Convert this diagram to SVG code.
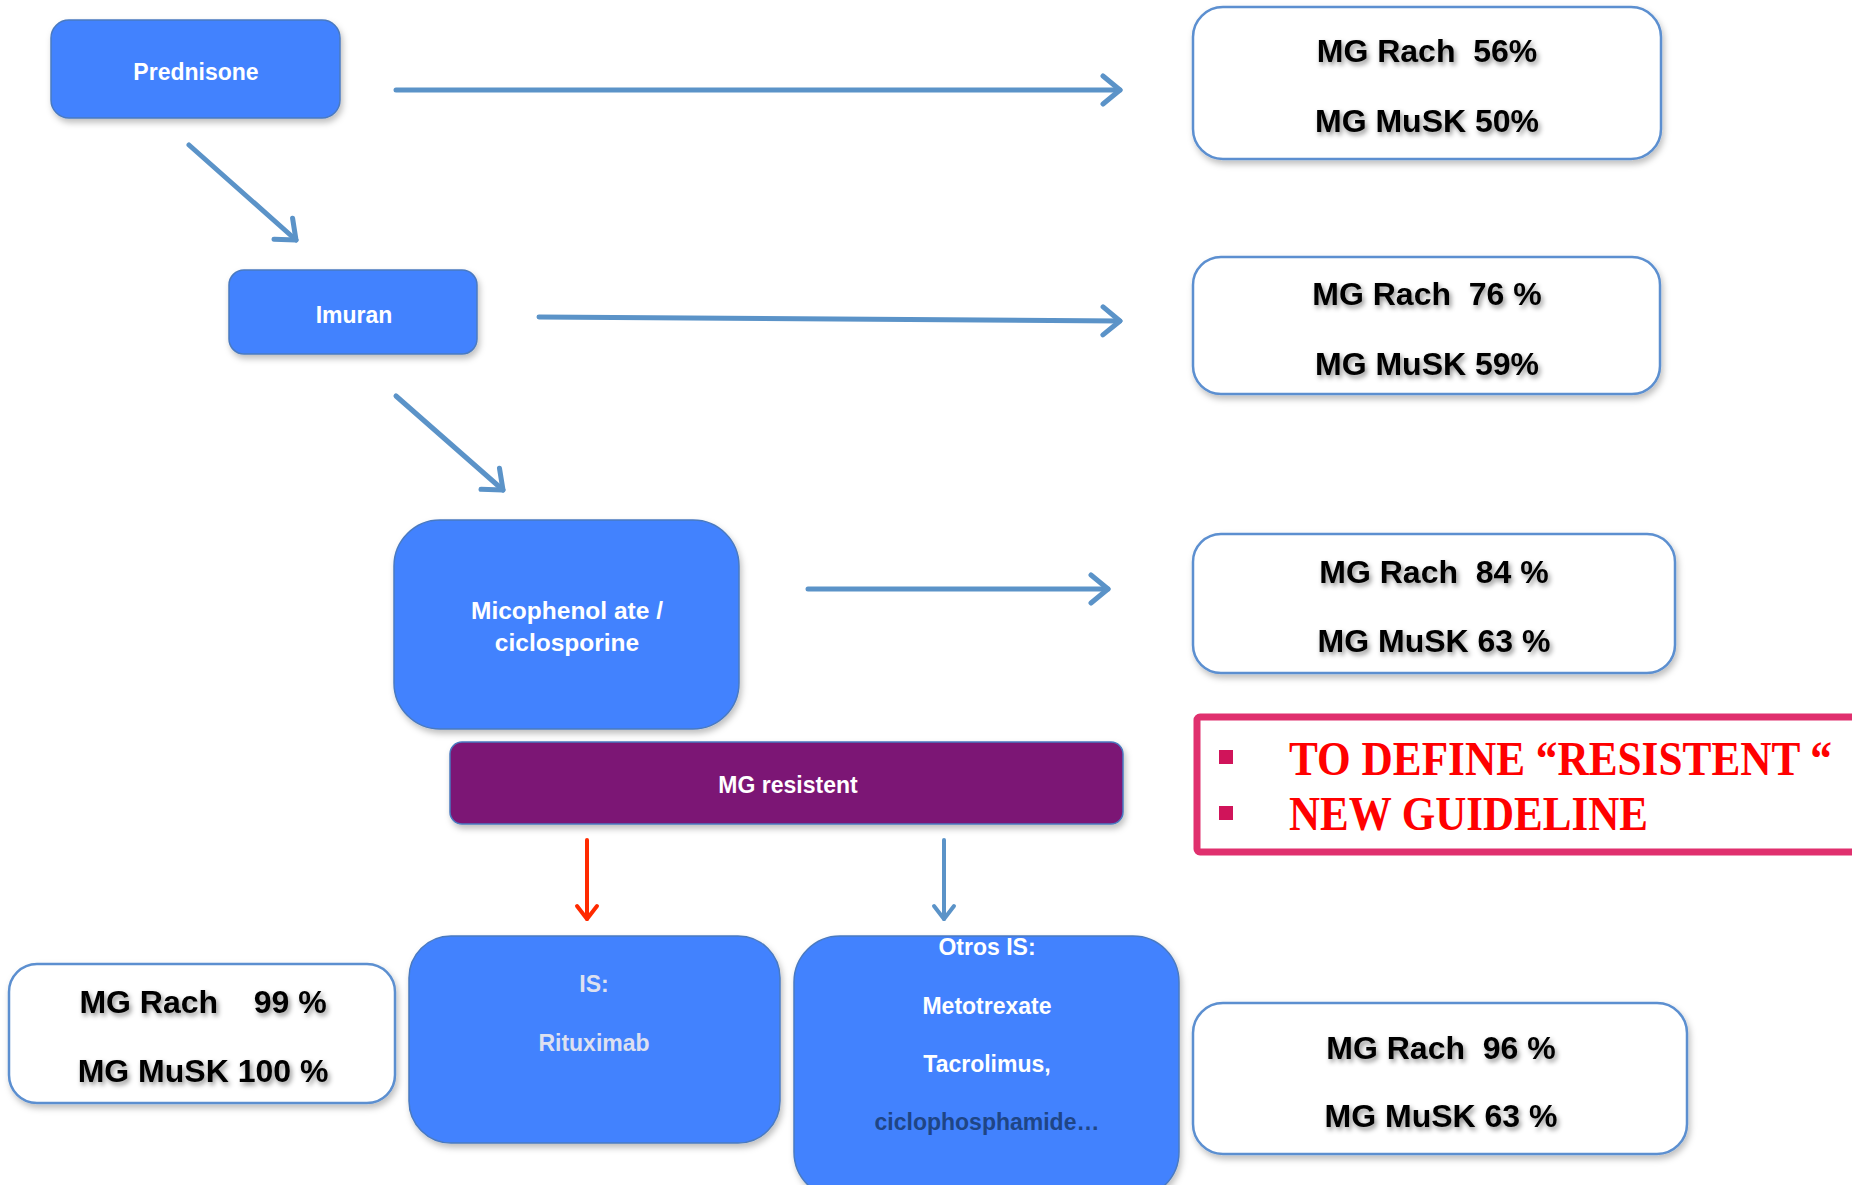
<svg xmlns="http://www.w3.org/2000/svg" width="1852" height="1185" viewBox="0 0 1852 1185">
<defs>
<style>
.node{fill:#4282FE;stroke:#4A7AC0;stroke-width:1.5;filter:url(#boxShadow)}
.res{fill:#FFFFFF;stroke:#5B8FD0;stroke-width:2.5;filter:url(#boxShadow)}
.wt{font-family:"Liberation Sans",Arial,sans-serif;font-weight:bold;font-size:23px;fill:#FFFFFF;text-anchor:middle}
.rt{font-family:"Liberation Sans",Arial,sans-serif;font-weight:bold;font-size:32px;fill:#000000;text-anchor:middle;filter:url(#textShadow)}
.conn{stroke:#5B93C8;stroke-width:5;fill:none;stroke-linecap:round}
.red{font-family:"Liberation Serif","Times New Roman",serif;font-weight:bold;font-size:48px;fill:#FF0000}
</style>
<filter id="boxShadow" x="-10%" y="-10%" width="125%" height="130%">
<feDropShadow dx="2" dy="4" stdDeviation="3" flood-color="#000000" flood-opacity="0.25"/>
</filter>
<filter id="textShadow" x="-20%" y="-50%" width="140%" height="200%">
<feDropShadow dx="2" dy="3" stdDeviation="2.5" flood-color="#000000" flood-opacity="0.45"/>
</filter>
<marker id="chev" viewBox="0 0 26 34" refX="22" refY="17" markerWidth="26" markerHeight="34" markerUnits="userSpaceOnUse" orient="auto">
<path d="M5,3 L22,17 L5,31" fill="none" stroke="#5B93C8" stroke-width="5" stroke-linecap="round" stroke-linejoin="round"/>
</marker>
<marker id="chevRed" viewBox="0 0 20 26" refX="17" refY="13" markerWidth="20" markerHeight="26" markerUnits="userSpaceOnUse" orient="auto">
<path d="M4,3 L17,13 L4,23" fill="none" stroke="#FF2A00" stroke-width="4" stroke-linecap="round" stroke-linejoin="round"/>
</marker>
<marker id="chevSmall" viewBox="0 0 20 26" refX="17" refY="13" markerWidth="20" markerHeight="26" markerUnits="userSpaceOnUse" orient="auto">
<path d="M4,3 L17,13 L4,23" fill="none" stroke="#5B93C8" stroke-width="4" stroke-linecap="round" stroke-linejoin="round"/>
</marker>
</defs>
<rect x="0" y="0" width="1852" height="1185" fill="#FFFFFF"/>

<g id="connectors">
<line class="conn" x1="396" y1="90" x2="1120" y2="90" marker-end="url(#chev)"/>
<line class="conn" x1="189" y1="145" x2="296" y2="240" marker-end="url(#chev)"/>
<line class="conn" x1="539" y1="317" x2="1120" y2="321" marker-end="url(#chev)"/>
<line class="conn" x1="396" y1="396" x2="503" y2="490" marker-end="url(#chev)"/>
<line class="conn" x1="808" y1="589" x2="1108" y2="589" marker-end="url(#chev)"/>
<line x1="587" y1="840" x2="587" y2="919" stroke="#FF2A00" stroke-width="4" stroke-linecap="round" marker-end="url(#chevRed)"/>
<line x1="944" y1="840" x2="944" y2="919" stroke="#5B93C8" stroke-width="4" stroke-linecap="round" marker-end="url(#chevSmall)"/>
</g>

<g id="prednisone">
<rect class="node" x="51" y="20" width="289" height="98" rx="18"/>
<text class="wt" x="196" y="80">Prednisone</text>
</g>
<g id="imuran">
<rect class="node" x="229" y="270" width="248" height="84" rx="15"/>
<text class="wt" x="354" y="323">Imuran</text>
</g>
<g id="micophenolate">
<rect class="node" x="394" y="520" width="345" height="209" rx="46"/>
<text class="wt" x="567" y="619" style="font-size:24.5px">Micophenol ate /</text>
<text class="wt" x="567" y="651" style="font-size:24.5px">ciclosporine</text>
</g>
<g id="mg-resistent">
<rect x="450" y="742" width="673" height="82" rx="12" fill="#7B1974" stroke="#4A7AC0" stroke-width="1.5" filter="url(#boxShadow)"/>
<text class="wt" x="788" y="793">MG resistent</text>
</g>
<g id="is-rituximab">
<rect class="node" x="409" y="936" width="371" height="207" rx="42"/>
<text class="wt" x="594" y="992" style="fill:#DDE0F0">IS:</text>
<text class="wt" x="594" y="1051" style="fill:#DDE0F0">Rituximab</text>
</g>
<g id="otros-is">
<rect class="node" x="794" y="936" width="385" height="262" rx="46"/>
<text class="wt" x="987" y="955">Otros IS:</text>
<text class="wt" x="987" y="1014">Metotrexate</text>
<text class="wt" x="987" y="1072">Tacrolimus,</text>
<text class="wt" x="987" y="1130" style="fill:#1F4585">ciclophosphamide…</text>
</g>

<g id="result-prednisone">
<rect class="res" x="1193" y="7" width="468" height="152" rx="30"/>
<text class="rt" x="1427" y="62" xml:space="preserve">MG Rach  56%</text>
<text class="rt" x="1427" y="132">MG MuSK 50%</text>
</g>
<g id="result-imuran">
<rect class="res" x="1193" y="257" width="467" height="137" rx="28"/>
<text class="rt" x="1427" y="305" xml:space="preserve">MG Rach  76 %</text>
<text class="rt" x="1427" y="375">MG MuSK 59%</text>
</g>
<g id="result-micophenolate">
<rect class="res" x="1193" y="534" width="482" height="139" rx="28"/>
<text class="rt" x="1434" y="583" xml:space="preserve">MG Rach  84 %</text>
<text class="rt" x="1434" y="652">MG MuSK 63 %</text>
</g>
<g id="result-rituximab">
<rect class="res" x="9" y="964" width="386" height="139" rx="28"/>
<text class="rt" x="203" y="1013" xml:space="preserve">MG Rach    99 %</text>
<text class="rt" x="203" y="1082">MG MuSK 100 %</text>
</g>
<g id="result-otros">
<rect class="res" x="1193" y="1003" width="494" height="151" rx="30"/>
<text class="rt" x="1441" y="1059" xml:space="preserve">MG Rach  96 %</text>
<text class="rt" x="1441" y="1127">MG MuSK 63 %</text>
</g>

<g id="note">
<rect x="1197" y="717" width="700" height="135" rx="3" fill="#FFFFFF" stroke="#E0306E" stroke-width="7"/>
<rect x="1219" y="750" width="14" height="14" fill="#D0145A"/>
<rect x="1219" y="806" width="14" height="14" fill="#D0145A"/>
<text class="red" x="1289" y="775" textLength="543" lengthAdjust="spacingAndGlyphs">TO DEFINE “RESISTENT “</text>
<text class="red" x="1289" y="830" textLength="359" lengthAdjust="spacingAndGlyphs">NEW GUIDELINE</text>
</g>
</svg>
